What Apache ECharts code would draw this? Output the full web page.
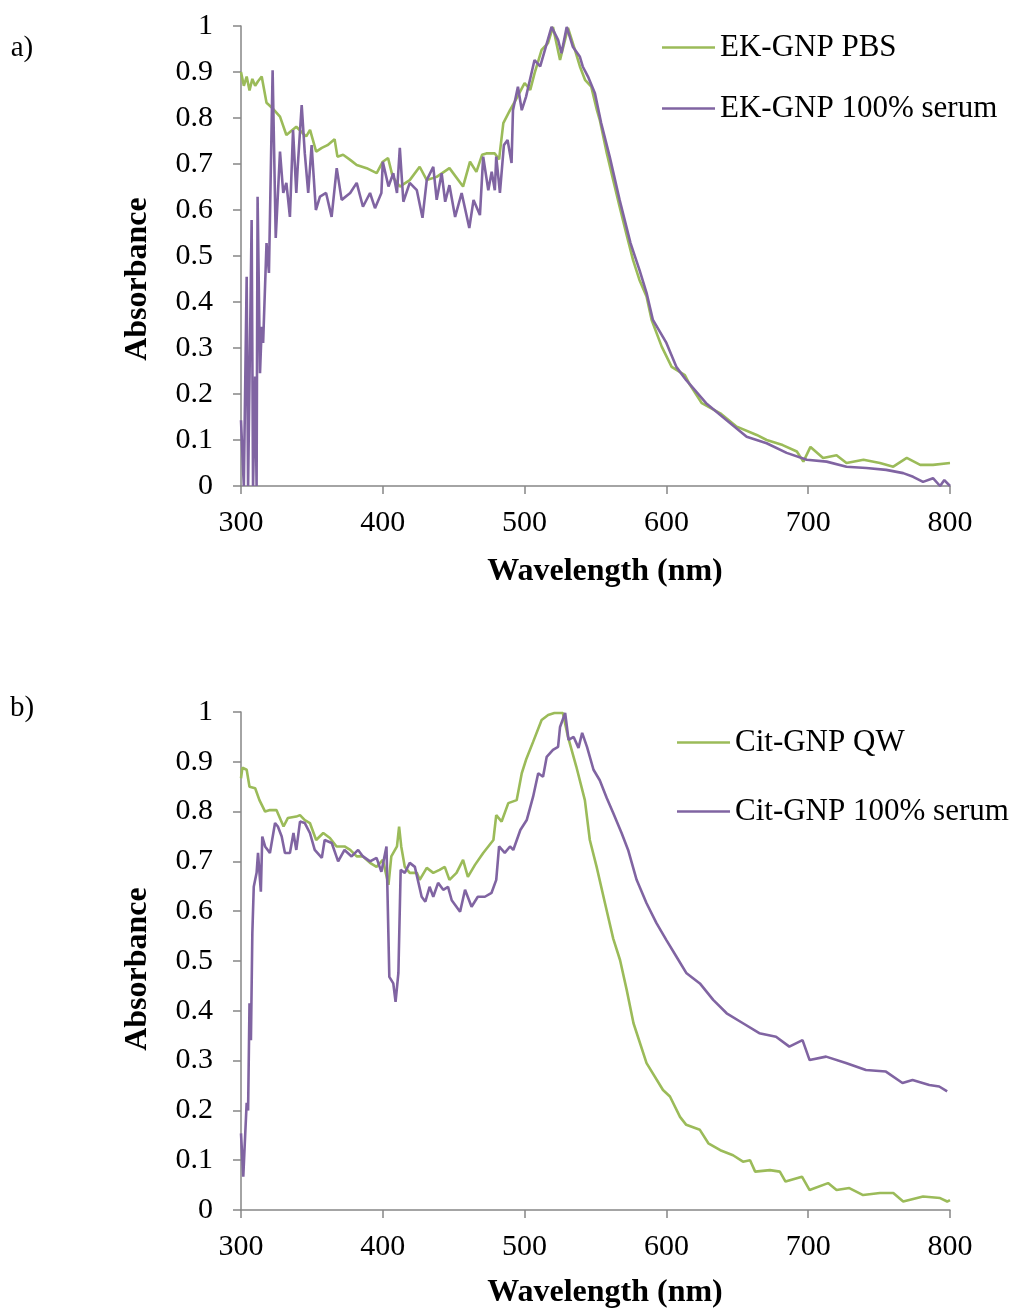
<!DOCTYPE html>
<html>
<head>
<meta charset="utf-8">
<script src="https://cdn.jsdelivr.net/npm/echarts@6/dist/echarts.min.js"></script>
<style>html,body{margin:0;padding:0;background:#fff}#c{width:1016px;height:1311px}</style>
</head>
<body>
<div id="c"></div>
<script>
// ---- Panel a) ----
const aPbsX = [300,302,304,306,308,310,312,314.6,318,322.6,327.5,332,339,343.5,346,348.7,353,357,361,366,368,372,377,381.6,388.6,395.7,400,403.7,407,412,419,426,431,438,447,456.6,461.5,466,470,473,479,482,485,489.7,493,500,504,507,512,516.5,520,525,530.6,535.5,539,542.6,547,551,553,558,562.5,567,572,576.5,581,586,589.6,596.7,603.7,613,616.6,625,638,649.6,663.7,670.7,682,692,696.6,701.6,710.5,720,727,739,750.6,760,769.5,779,788,800];
const aPbsY = [0.90,0.87,0.89,0.86,0.885,0.87,0.88,0.89,0.833,0.82,0.803,0.763,0.781,0.767,0.76,0.774,0.727,0.735,0.741,0.754,0.716,0.72,0.709,0.698,0.691,0.68,0.705,0.713,0.672,0.651,0.665,0.694,0.665,0.672,0.691,0.651,0.705,0.683,0.72,0.723,0.723,0.71,0.789,0.817,0.835,0.876,0.861,0.897,0.948,0.963,0.998,0.926,0.996,0.948,0.912,0.883,0.868,0.817,0.796,0.723,0.665,0.607,0.545,0.491,0.448,0.412,0.361,0.303,0.259,0.241,0.22,0.18,0.158,0.129,0.111,0.10,0.089,0.075,0.053,0.085,0.061,0.067,0.05,0.057,0.05,0.042,0.061,0.046,0.046,0.05];
const aSerumX = [300,301.4,302,304,305,307.5,308.5,310,311,311.7,313.4,314.6,315.6,318,319.7,322.3,324.5,327.5,329.8,332,334.5,336.7,339,340,342.8,345,347.4,349.8,352.8,355.7,360,363.9,367.5,371,377,381.6,386,391,394.5,399,400,404,407.4,410,412,414.5,419,424,428,431,435.6,438,441.5,444,447,451,455.6,461,464,468.5,470.8,474.4,476.8,479,480,482.6,485.4,488,490.8,491.8,495.3,498,501,507,511,515,519,523.6,526,529.7,534,539,541,544.7,549.6,554,560,567,574.7,581,586,590.5,600,607,614,628,642.5,656.6,670.7,684.8,699,713,727,741,755,767,774,781,788,793,796,800];
const aSerumY = [0.143,0.04,0,0.455,0,0.578,0,0.238,0,0.629,0.245,0.346,0.311,0.528,0.463,0.904,0.539,0.727,0.637,0.659,0.585,0.774,0.637,0.694,0.828,0.723,0.637,0.741,0.6,0.629,0.637,0.585,0.691,0.622,0.637,0.659,0.607,0.637,0.604,0.637,0.705,0.651,0.68,0.637,0.735,0.618,0.659,0.643,0.583,0.665,0.694,0.622,0.68,0.618,0.654,0.585,0.637,0.561,0.622,0.589,0.716,0.643,0.683,0.643,0.716,0.637,0.741,0.752,0.702,0.817,0.868,0.817,0.846,0.926,0.912,0.955,0.998,0.97,0.941,0.998,0.955,0.933,0.912,0.89,0.854,0.789,0.716,0.622,0.528,0.47,0.42,0.361,0.311,0.259,0.23,0.18,0.143,0.107,0.093,0.072,0.057,0.053,0.042,0.039,0.035,0.028,0.02,0.009,0.017,0,0.013,0];

// ---- Panel b) ----
const bQwX = [300,301,304,306,310,313,317,320.4,325,330,333,339,341.6,345,348.6,353,358,362.7,367.4,373,377,381.6,386,391,395.6,400,404,406,410,411.5,413,415.5,419,424,426,431,435.6,440,443.7,447,452,456.6,460,465,470.8,478,480,483.8,488.5,494.4,498,501,506,512,516.6,521,527,530.6,536.5,542.5,546,550.8,556.7,562.5,567.3,572,576.8,586,597.6,602.5,609.6,614,623.6,629.6,638,647,654,659,662.6,673,680,684,695.6,701,714,720,729,738.7,750.6,760,767,781,793,798,800];
const bQwY = [0.867,0.888,0.884,0.85,0.847,0.823,0.80,0.803,0.803,0.77,0.787,0.79,0.793,0.783,0.777,0.743,0.757,0.747,0.73,0.73,0.723,0.71,0.71,0.697,0.689,0.703,0.653,0.71,0.73,0.77,0.73,0.689,0.677,0.677,0.663,0.687,0.677,0.683,0.689,0.663,0.677,0.703,0.669,0.693,0.717,0.743,0.793,0.78,0.817,0.823,0.877,0.904,0.94,0.984,0.994,0.998,0.998,0.95,0.89,0.823,0.743,0.689,0.616,0.545,0.502,0.442,0.375,0.295,0.241,0.228,0.187,0.171,0.161,0.134,0.12,0.11,0.097,0.1,0.077,0.08,0.077,0.057,0.067,0.04,0.054,0.04,0.044,0.03,0.034,0.034,0.017,0.027,0.024,0.017,0.02];
const bSerumX = [300,301.6,303,304,305,306,307,308,309,311,312,314,315,317,320.4,324,326,328.7,331,334.5,337,339,341.6,345,348.6,352,357,359,364,368.5,373,378,382.6,386,391,395.6,399,402.6,404.6,407.4,409,411,412.6,415.5,419,422.6,427.4,430,433,435.6,439,442.6,446,448.6,454.5,458,462.6,467,472,476.7,480,482,486,489.7,492,497,501.5,506,509.6,513,515.6,520,523.6,525,528.6,531,534.6,538,540.6,544,548.6,553,558,562.5,568.4,573,579,586,593,600,607,614,623.6,633,642.5,654,665.5,677.3,686.7,696,701,712.6,726.6,740.7,754.8,766.5,773.6,785.4,792.4,798];
const bSerumY = [0.154,0.067,0.154,0.215,0.2,0.415,0.341,0.556,0.649,0.677,0.717,0.639,0.75,0.73,0.717,0.777,0.77,0.75,0.717,0.717,0.757,0.723,0.78,0.777,0.757,0.723,0.707,0.743,0.737,0.70,0.723,0.71,0.723,0.71,0.70,0.707,0.679,0.73,0.468,0.455,0.418,0.476,0.683,0.677,0.697,0.689,0.629,0.619,0.649,0.629,0.657,0.643,0.649,0.622,0.599,0.643,0.609,0.629,0.629,0.637,0.663,0.73,0.717,0.73,0.723,0.763,0.783,0.83,0.877,0.87,0.91,0.924,0.93,0.97,0.998,0.944,0.95,0.928,0.958,0.93,0.884,0.863,0.827,0.797,0.757,0.723,0.663,0.616,0.576,0.542,0.509,0.476,0.455,0.422,0.395,0.375,0.355,0.348,0.328,0.341,0.301,0.308,0.295,0.281,0.278,0.255,0.261,0.251,0.248,0.238];

const seriesNames = ['EK-GNP PBS','EK-GNP 100% serum','Cit-GNP QW','Cit-GNP 100% serum'];
const panelLabels = ['a)','b)'];
const xTitle = 'Wavelength (nm)';
const yTitle = 'Absorbance';

const GREEN = '#9BBB59', PURPLE = '#8064A2', AXIS = '#868686';
const FONT = '"Liberation Serif","Times New Roman",serif';
const zip = (xs, ys) => xs.map((x, i) => [x, ys[i]]);

function xAx(gi){
  return {type:'value', gridIndex:gi, min:300, max:800, interval:100,
    axisLine:{lineStyle:{color:AXIS,width:1.5}},
    axisTick:{show:true,length:8,lineStyle:{color:AXIS,width:1.5}},
    axisLabel:{color:'#000',fontFamily:FONT,fontSize:30,margin:22},
    splitLine:{show:false}};
}
function yAx(gi){
  return {type:'value', gridIndex:gi, min:0, max:1, interval:0.1,
    axisLine:{show:true,lineStyle:{color:AXIS,width:1.5}},
    axisTick:{show:true,length:8,lineStyle:{color:AXIS,width:1.5}},
    axisLabel:{color:'#000',fontFamily:FONT,fontSize:30,margin:28,
      formatter:v=> (v===0?'0':(Math.abs(v-1)<1e-9?'1':v.toFixed(1)))},
    splitLine:{show:false}};
}
function ser(name, gi, data, color){
  return {name, type:'line', xAxisIndex:gi, yAxisIndex:gi, data, showSymbol:false, symbol:'none',
    lineStyle:{color, width:2.6}, itemStyle:{color}, animation:false, z:color===PURPLE?3:2};
}
function txt(x,y,t,opts){
  return {type:'text', x, y, style:Object.assign({text:t, fontFamily:FONT, fontSize:30, fill:'#000', textAlign:'center', textVerticalAlign:'middle'}, opts||{})};
}

const chart = echarts.init(document.getElementById('c'), null, {renderer:'canvas'});
chart.setOption({
  backgroundColor:'#fff',
  animation:false,
  grid:[{left:241, top:26, width:709, height:460},{left:241, top:712, width:709, height:498}],
  xAxis:[xAx(0), xAx(1)],
  yAxis:[yAx(0), yAx(1)],
  legend:[
    {data:[seriesNames[0],seriesNames[1]], orient:'vertical', left:657, top:27, itemGap:30,
     icon:'rect', itemWidth:53, itemHeight:2.5,
     textStyle:{fontFamily:FONT,fontSize:31,color:'#000',lineHeight:31}},
    {data:[seriesNames[2],seriesNames[3]], orient:'vertical', left:672, top:722, itemGap:38,
     icon:'rect', itemWidth:53, itemHeight:2.5,
     textStyle:{fontFamily:FONT,fontSize:31,color:'#000',lineHeight:31}}
  ],
  series:[
    ser(seriesNames[0],0,zip(aPbsX,aPbsY),GREEN),
    ser(seriesNames[1],0,zip(aSerumX,aSerumY),PURPLE),
    ser(seriesNames[2],1,zip(bQwX,bQwY),GREEN),
    ser(seriesNames[3],1,zip(bSerumX,bSerumY),PURPLE)
  ],
  graphic:[
    txt(22,48,panelLabels[0],{fontSize:29}),
    txt(22,708,panelLabels[1],{fontSize:29}),
    txt(605,572,xTitle,{fontWeight:'bold',fontSize:32}),
    txt(605,1293,xTitle,{fontWeight:'bold',fontSize:32}),
    {type:'text', x:138, y:279, rotation:Math.PI/2, style:{text:yTitle, fontFamily:FONT, fontSize:32, fontWeight:'bold', fill:'#000', textAlign:'center', textVerticalAlign:'middle'}},
    {type:'text', x:138, y:969, rotation:Math.PI/2, style:{text:yTitle, fontFamily:FONT, fontSize:32, fontWeight:'bold', fill:'#000', textAlign:'center', textVerticalAlign:'middle'}}
  ]
});
</script>
</body>
</html>
